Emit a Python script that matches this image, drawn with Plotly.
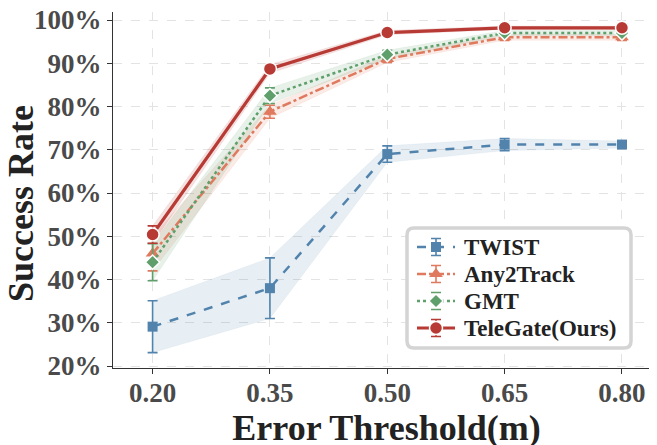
import plotly.graph_objects as go

thresholds = [0.20, 0.35, 0.50, 0.65, 0.80]
x_ticklabels = ["0.20", "0.35", "0.50", "0.65", "0.80"]

twist = [29.1, 38.0, 69.0, 71.2, 71.2]
twist_err = [6.0, 7.0, 1.9, 1.4, 0.8]

any2track = [46.0, 78.8, 91.0, 96.0, 96.0]
any2track_err = [4.0, 1.5, 0.8, 0.7, 0.7]

gmt = [44.0, 82.5, 92.0, 97.0, 97.0]
gmt_err = [4.3, 1.8, 1.0, 0.6, 0.6]

telegate = [50.4, 88.7, 97.1, 98.2, 98.2]
telegate_err = [2.0, 1.0, 0.5, 0.4, 0.4]

y_ticks = [20, 30, 40, 50, 60, 70, 80, 90, 100]
y_ticklabels = ["20%", "30%", "40%", "50%", "60%", "70%", "80%", "90%", "100%"]

series = [
    ("TWIST", twist, twist_err, "#5183ad", "rgba(81,131,173,0.13)", "dash", "square", 10, 2.5),
    ("Any2Track", any2track, any2track_err, "#df7a5e", "rgba(223,122,94,0.15)", "dashdot", "triangle-up", 12, 2.5),
    ("GMT", gmt, gmt_err, "#5e9f6b", "rgba(94,159,107,0.15)", "dot", "diamond", 11, 2.5),
    ("TeleGate(Ours)", telegate, telegate_err, "#b83a35", "rgba(184,58,53,0.15)", "solid", "circle", 13, 3.2),
]

# page has an 8px body margin; layout numbers below are in figure pixels
OFF = 8
W, H = 657, 445
ML, MR, MT, MB = 105, 5, 4, 85
PW, PH = W - ML - MR, H - MT - MB


def px_x(px):
    return (px - OFF - ML) / PW


def px_y(py):
    return (H - MB - (py - OFF)) / PH


fig = go.Figure()
for name, vals, errs, color, fillc, dash, sym, msize, lw in series:
    lower = [v - e for v, e in zip(vals, errs)]
    upper = [v + e for v, e in zip(vals, errs)]
    fig.add_trace(go.Scatter(x=thresholds, y=lower, mode="lines",
                             line=dict(width=0.5, color=fillc), showlegend=False, hoverinfo="skip"))
    fig.add_trace(go.Scatter(x=thresholds, y=upper, mode="lines", fill="tonexty",
                             fillcolor=fillc, line=dict(width=0.5, color=fillc),
                             showlegend=False, hoverinfo="skip"))

for name, vals, errs, color, fillc, dash, sym, msize, lw in series:
    fig.add_trace(go.Scatter(
        x=thresholds, y=vals, name=name, mode="lines+markers", showlegend=False,
        line=dict(color=color, width=lw, dash=dash),
        marker=dict(symbol=sym, size=msize, color=color,
                    line=dict(color="white", width=1.5 if sym in ("circle", "diamond") else 0)),
        error_y=dict(type="data", array=errs, visible=True, color=color, thickness=1.6, width=5),
    ))

font_family = "Liberation Serif"

# ---- custom legend (symbols on an overlay subplot in plot-area coordinates) ----
row_px = [247, 274, 301, 328]
sym_x0, sym_xm, sym_x1 = px_x(417), px_x(436), px_x(455)
text_x = px_x(462)
cap_half = 8.5 / PH
for (name, vals, errs, color, fillc, dash, sym, msize, lw), rp in zip(series, row_px):
    ry = px_y(rp)
    fig.add_trace(go.Scatter(x=[sym_x0, sym_x1], y=[ry, ry], mode="lines", xaxis="x2", yaxis="y2",
                             line=dict(color=color, width=lw, dash=dash),
                             showlegend=False, hoverinfo="skip"))
    fig.add_trace(go.Scatter(x=[sym_xm], y=[ry], mode="markers", xaxis="x2", yaxis="y2",
                             marker=dict(symbol=sym, size=msize, color=color,
                                         line=dict(color="white", width=1.5 if sym in ("circle", "diamond") else 0)),
                             error_y=dict(type="data", array=[cap_half], visible=True, color=color,
                                          thickness=1.6, width=5),
                             showlegend=False, hoverinfo="skip"))
    fig.add_annotation(x=text_x, y=ry, xref="paper", yref="paper", text=name, showarrow=False,
                       xanchor="left", yanchor="middle",
                       font=dict(family=font_family, size=23, color="#222222", weight="bold"))

# y-axis title placed precisely
fig.add_annotation(x=px_x(21), y=px_y(204), xref="paper", yref="paper", text="Success Rate",
                   showarrow=False, textangle=-90, xanchor="center", yanchor="middle",
                   font=dict(family=font_family, size=36, color="#222222", weight="bold"))

# rounded legend frame
x0, x1 = px_x(407), px_x(631)
y0, y1 = px_y(348), px_y(228)
rx, ry_ = 7 / PW, 7 / PH
path = (f"M {x0+rx},{y0} L {x1-rx},{y0} Q {x1},{y0} {x1},{y0+ry_} "
        f"L {x1},{y1-ry_} Q {x1},{y1} {x1-rx},{y1} L {x0+rx},{y1} "
        f"Q {x0},{y1} {x0},{y1-ry_} L {x0},{y0+ry_} Q {x0},{y0} {x0+rx},{y0} Z")
fig.add_shape(type="path", path=path, xref="x2", yref="y2",
              fillcolor="white", line=dict(color="#d4d4d4", width=3.5), layer="below")

fig.update_layout(
    width=W, height=H,
    margin=dict(l=ML, r=MR, t=MT, b=MB),
    plot_bgcolor="rgba(0,0,0,0)", paper_bgcolor="white",
    font=dict(family=font_family),
    showlegend=False,
    xaxis=dict(
        range=[0.1494, 0.8486], tickvals=thresholds, ticktext=x_ticklabels,
        showgrid=True, gridcolor="#e3e3e3", griddash="dash", gridwidth=1,
        showline=True, linecolor="#333333", linewidth=1.3,
        ticks="outside", ticklen=5, tickcolor="#333333", tickwidth=1.2,
        tickfont=dict(family=font_family, size=27, color="#4a4a4a", weight="bold"),
        ticklabelstandoff=-5, ticklabeloverflow="allow",
        title=dict(text="Error Threshold(m)", standoff=6,
                   font=dict(family=font_family, size=36, color="#222222", weight="bold")),
        zeroline=False, automargin=False,
    ),
    yaxis=dict(
        range=[19.54, 101.85], tickvals=y_ticks, ticktext=y_ticklabels,
        showgrid=True, gridcolor="#e3e3e3", griddash="dash", gridwidth=1,
        showline=True, linecolor="#333333", linewidth=1.3,
        ticks="outside", ticklen=5, tickcolor="#333333", tickwidth=1.2,
        tickfont=dict(family=font_family, size=27, color="#4a4a4a", weight="bold"),
        ticklabeloverflow="allow",
        zeroline=False, automargin=False,
    ),
    xaxis2=dict(domain=[0, 1], range=[0, 1], anchor="y2", visible=False, fixedrange=True),
    yaxis2=dict(domain=[0, 1], range=[0, 1], anchor="x2", visible=False, fixedrange=True),
)

fig.write_html("out.html")
